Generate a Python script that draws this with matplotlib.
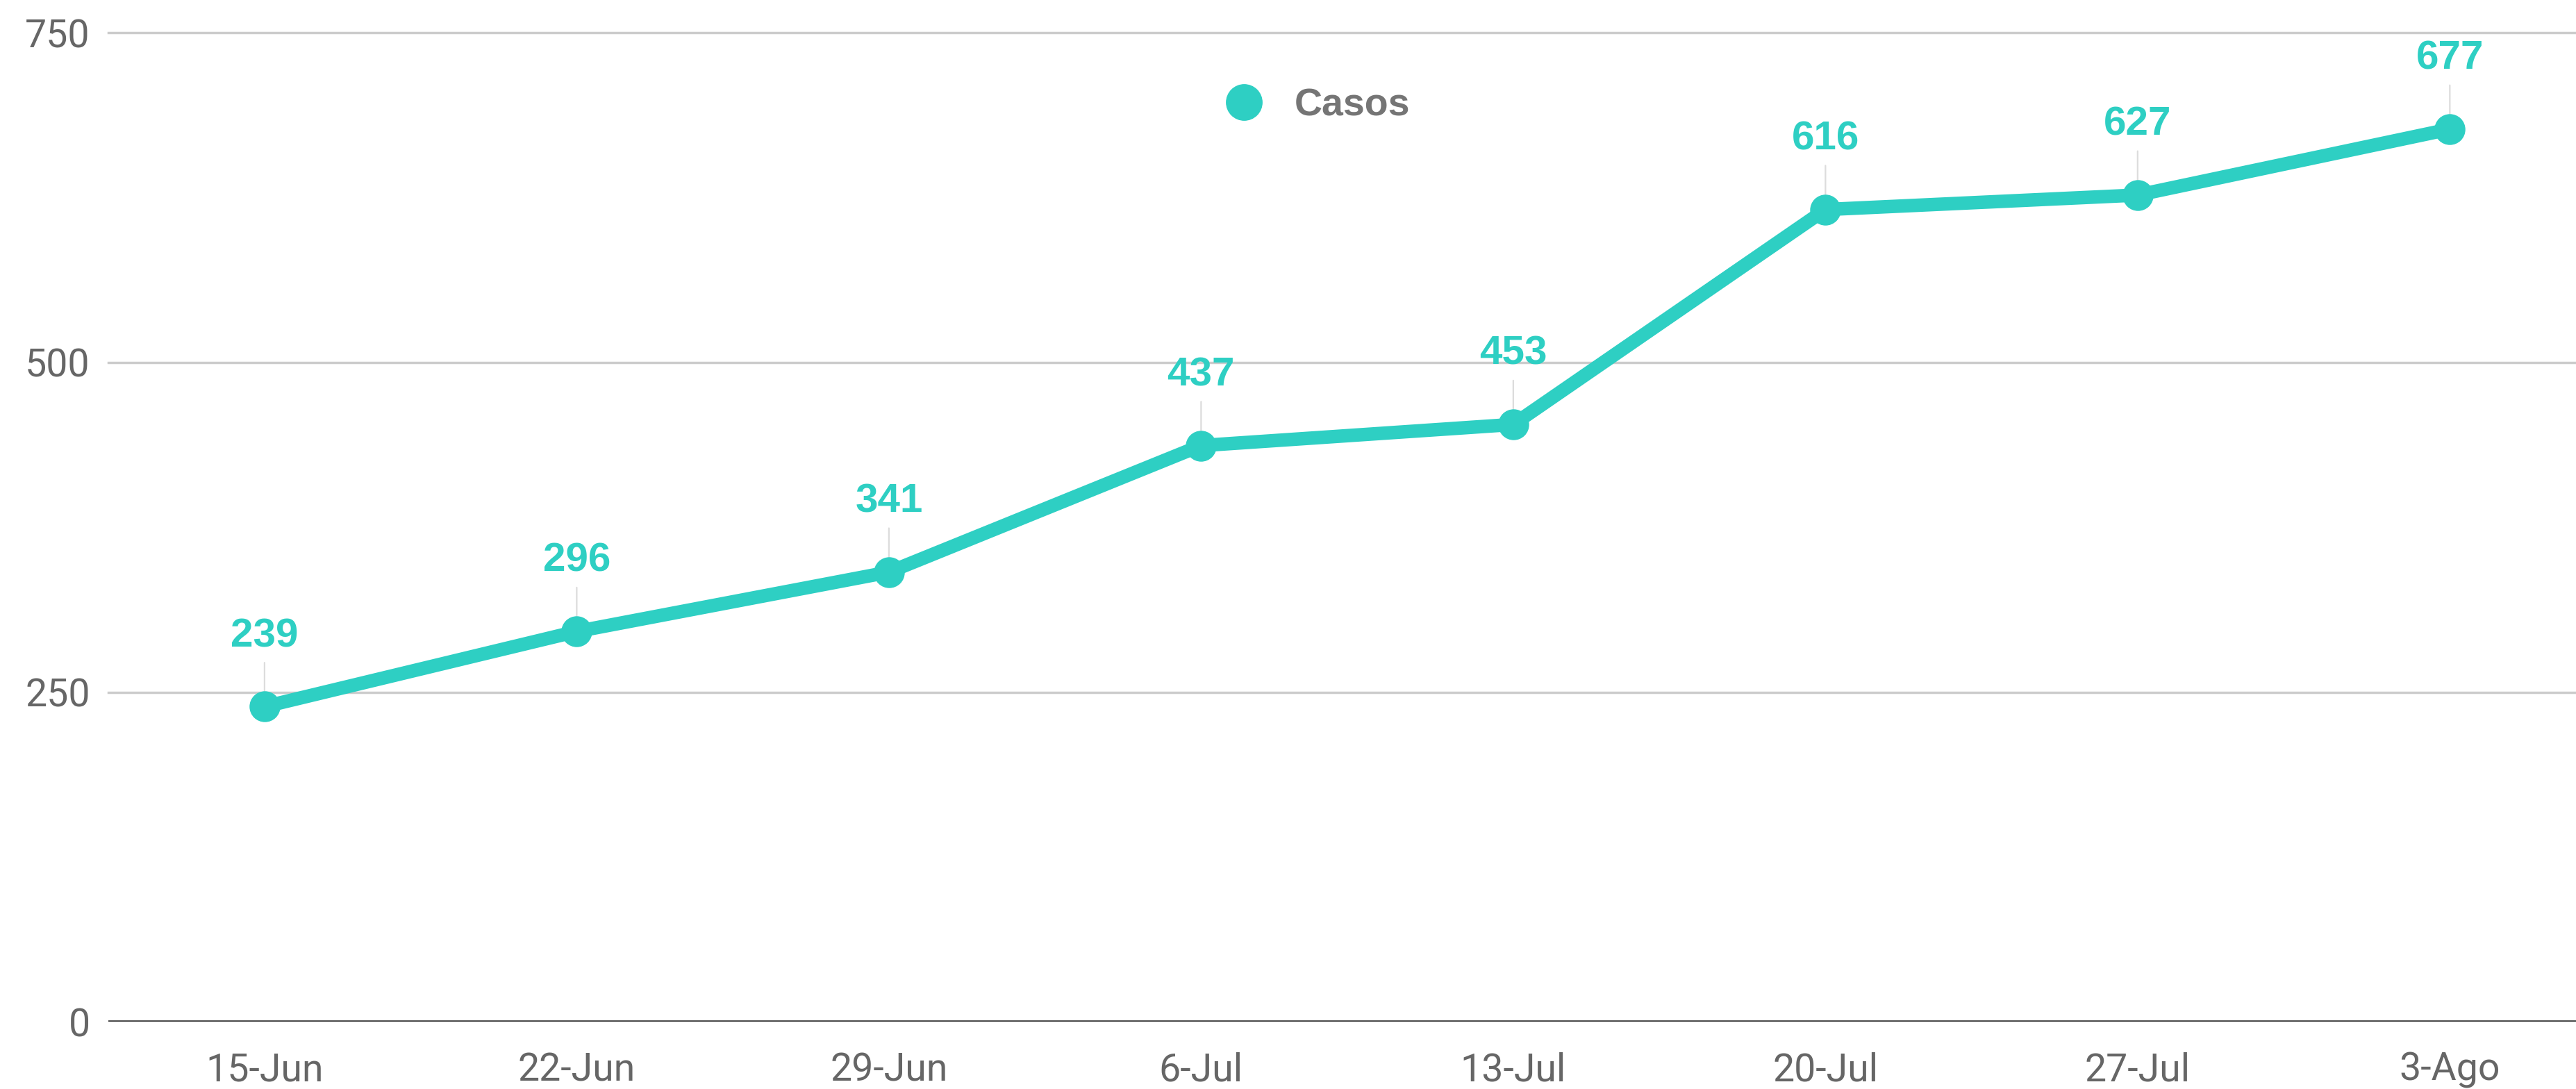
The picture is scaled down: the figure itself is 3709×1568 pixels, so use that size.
import matplotlib.pyplot as plt
from matplotlib.lines import Line2D

fechas = ['15-Jun', '22-Jun', '29-Jun', '6-Jul', '13-Jul', '20-Jul', '27-Jul', '3-Ago']
casos = [239, 296, 341, 437, 453, 616, 627, 677]
yticks = [0, 250, 500, 750]

teal = '#2ecfc3'

fig = plt.figure(figsize=(37.09, 15.68), dpi=100)
ax = fig.add_axes([0.0421, 0.0618, 0.958, 0.908])

x = list(range(len(fechas)))
ax.plot(x, casos, color=teal, lw=14, marker='o', ms=31, zorder=4,
        solid_capstyle='round', clip_on=False)

for xi, v in zip(x, casos):
    ax.annotate(str(v), xy=(xi, v), xytext=(0, 73), textcoords='offset points',
                ha='center', va='center', fontsize=42, fontweight='bold',
                family='Liberation Sans', color=teal, zorder=3,
                arrowprops=dict(arrowstyle='-', color='#dcdcdc', lw=1.6,
                                shrinkA=6, shrinkB=12))

ax.set_xlim(-0.5, 7.405)
ax.set_ylim(0, 750)
ax.set_xticks(x)
ax.set_xticklabels(fechas, family='Roboto', fontsize=40, color='#666666')
ax.set_yticks(yticks)
ax.set_yticklabels([str(t) for t in yticks], family='Roboto', fontsize=40, color='#666666')
ax.tick_params(axis='x', length=0, pad=31)
ax.tick_params(axis='y', length=0, pad=19)

for t in yticks[1:]:
    ax.axhline(t, color='#cccccc', lw=2.5, zorder=1, clip_on=False)
ax.axhline(0, color='#333333', lw=3.3, zorder=2)
for s in ax.spines.values():
    s.set_visible(False)

handle = Line2D([], [], color=teal, marker='o', ms=37, ls='none')
leg = fig.legend([handle], ['Casos'], loc='center', bbox_to_anchor=(0.5077, 0.903),
                 frameon=False, handletextpad=0.3, borderpad=0,
                 prop={'family': 'Liberation Sans', 'weight': 'bold', 'size': 40})
for t in leg.get_texts():
    t.set_color('#757575')

fig.savefig('out.png', dpi=100, facecolor='white')
